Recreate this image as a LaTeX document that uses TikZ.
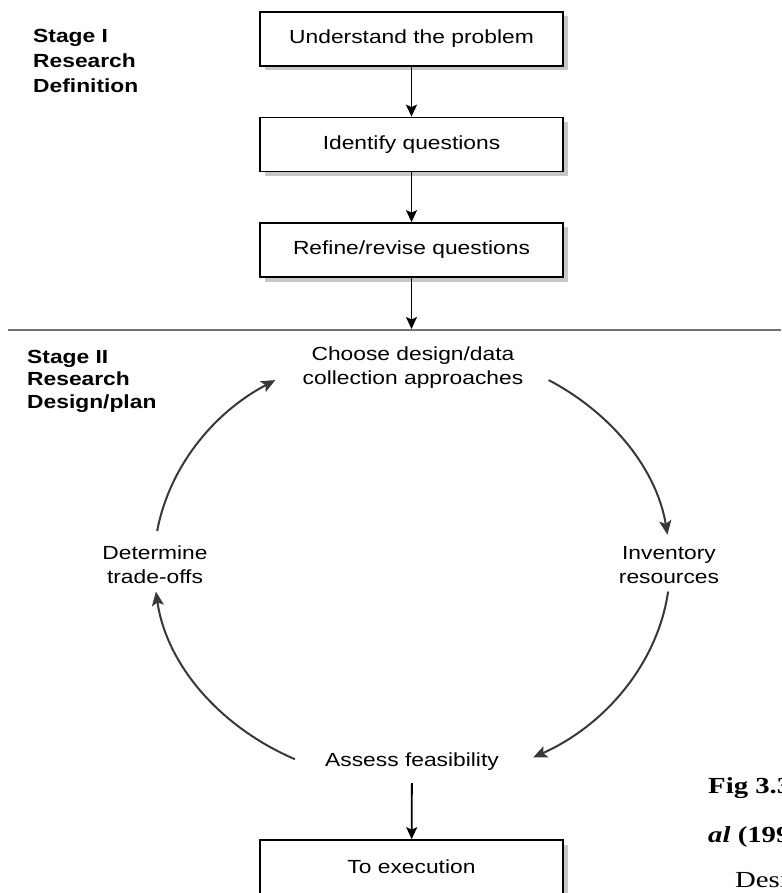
\documentclass[tikz,border=0pt]{standalone}
\usepackage{fontspec}
\setmainfont{Liberation Sans}
\newfontfamily\labelfont[FakeStretch=1.2]{Liberation Sans}
\newfontfamily\captfont[FakeStretch=1.25]{Liberation Serif}
\usetikzlibrary{arrows.meta,shadows}

\begin{document}
\begin{tikzpicture}[x=1pt,y=1pt,
  stepbox/.style={draw=black, line width=1.7pt, fill=white,
    minimum width=303pt, minimum height=54pt, inner sep=0pt,
    font=\labelfont\fontsize{19}{23}\selectfont,
    drop shadow={shadow xshift=4.5pt, shadow yshift=-4.5pt, fill=black!22, opacity=1}},
  phase/.style={font=\labelfont\fontsize{19}{23.5}\selectfont, align=center, inner sep=0pt, anchor=base},
  stage/.style={font=\labelfont\bfseries\fontsize{19}{25}\selectfont, align=left, inner sep=0pt, anchor=base west},
  capt/.style={font=\captfont\fontsize{23}{27}\selectfont, inner sep=0pt, anchor=base west},
  flow/.style={line width=1.8pt, -{Stealth[length=12pt,width=11pt,inset=2.5pt]}},
  loopflow/.style={draw=black!78, line width=2pt, -{Stealth[length=14pt,width=12pt,inset=3pt]}},
  divider/.style={draw=black!55, line width=1.5pt},
]
\useasboundingbox (0,0) rectangle (781,-893);
\clip (0,0) rectangle (781,-893);

% Stage I: linear steps (multi-line labels sit on their last baseline)
\node[stage] (stageone) at (33,-93) {Stage I\\Research\\Definition};
\node[stepbox] (understand) at (411.5,-39) {Understand the problem};
\node[stepbox] (identify) at (411.5,-144.5) {Identify questions};
\node[stepbox] (refine) at (411.5,-250) {Refine/revise questions};

\draw[flow] (understand) -- (identify);
\draw[flow] (identify) -- (refine);

% divider between the two stages
\coordinate (ruleL) at (8,-330);
\coordinate (ruleR) at (781,-330);
\coordinate (entry) at (411.5,-329);
\draw[divider] (ruleL) -- (ruleR);
\draw[flow] (refine) -- (entry);

% Stage II: design cycle
\node[stage, font=\labelfont\bfseries\fontsize{19}{22.5}\selectfont] (stagetwo) at (27,-408) {Stage II\\Research\\Design/plan};
\node[phase] (choose) at (413,-384) {Choose design/data\\collection approaches};
\node[phase] (inventory) at (669,-583) {Inventory\\resources};
\node[phase] (tradeoffs) at (155,-583) {Determine\\trade-offs};
\node[phase] (assess) at (412,-766) {Assess feasibility};

% ends of the cycle arcs, on an ellipse round the cycle
\coordinate (c1s) at (548.7,-380.1);
\coordinate (c1e) at (667.5,-534.7);
\coordinate (c2s) at (668.1,-591.6);
\coordinate (c2e) at (533.1,-757.5);
\coordinate (c3s) at (294.9,-759.2);
\coordinate (c3e) at (155.9,-591.6);
\coordinate (c4s) at (157.2,-530.9);
\coordinate (c4e) at (275.3,-380.1);

\draw[loopflow] (c1s) to[out=-27.8, in=99.4, out distance=73pt, in distance=65pt] (c1e);
\draw[loopflow] (c2s) to[out=-98.3, in=24.2, out distance=71pt, in distance=81pt] (c2e);
\draw[loopflow] (c3s) to[out=156.7, in=-81.7, out distance=83pt, in distance=73pt] (c3e);
\draw[loopflow] (c4s) to[out=79.4, in=207.8, out distance=63pt, in distance=72pt] (c4e);

\node[stepbox] (exec) at (411.5,-867) {To execution};
\draw[flow, shorten <=13pt] (assess) -- (exec);

% caption running in from the page text
\node[capt] (figno) at (708,-793) {\bfseries Fig 3.3};
\node[capt] (figauth) at (708,-842) {\bfseries\itshape al\upshape\ (199};
\node[capt] (figdesc) at (735,-887) {Desi};
\end{tikzpicture}
\end{document}
